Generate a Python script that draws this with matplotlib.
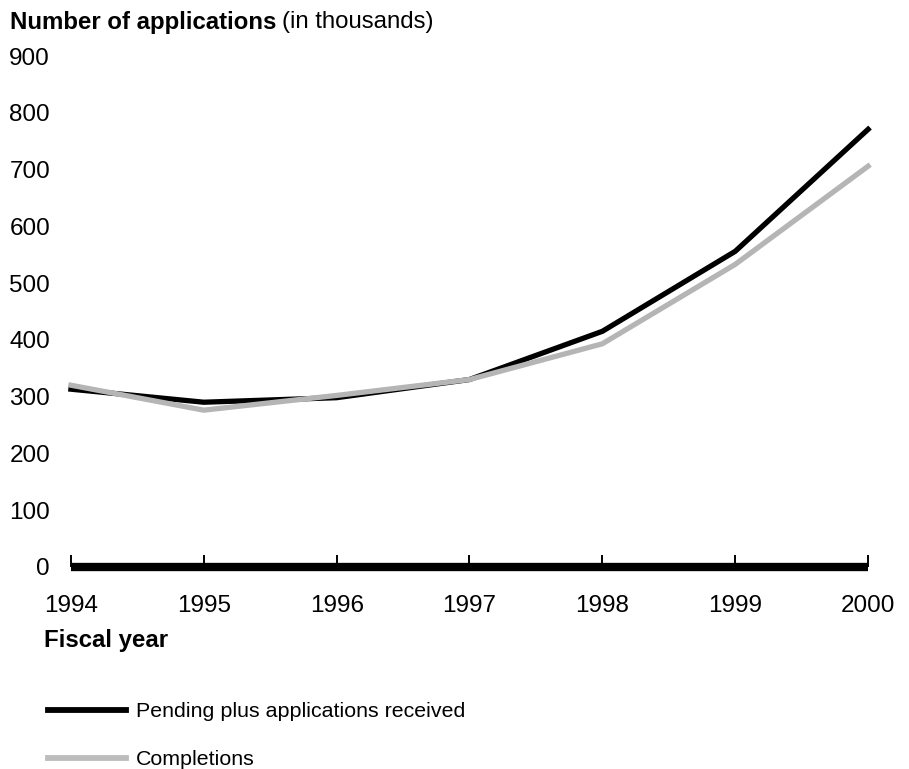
import matplotlib.pyplot as plt
from matplotlib.lines import Line2D

plt.rcParams["font.family"] = ["Liberation Sans", "DejaVu Sans"]

years = [1994, 1995, 1996, 1997, 1998, 1999, 2000]
pending = [313, 290, 298, 330, 415, 556, 771]
completions = [320, 276, 302, 330, 393, 533, 706]
y_ticks = [0, 100, 200, 300, 400, 500, 600, 700, 800, 900]

fig = plt.figure(figsize=(9.09, 7.69), dpi=100)
ax = fig.add_axes([0.078, 0.263, 0.877, 0.664])

ax.plot(years, pending, color="black", linewidth=3.8, clip_on=False,
        solid_joinstyle="miter", label="Pending plus applications received")
ax.plot(years, completions, color="#b5b5b5", linewidth=3.8, clip_on=False,
        solid_joinstyle="miter", label="Completions")

ax.set_xlim(1994, 2000)
ax.set_ylim(0, 900)
ax.set_xticks(years)
ax.set_yticks(y_ticks)

for s in ["top", "right", "left"]:
    ax.spines[s].set_visible(False)
ax.spines["bottom"].set_linewidth(6)
ax.spines["bottom"].set_capstyle("butt")
ax.tick_params(axis="x", direction="in", length=9, width=1.4, pad=20.5,
               labelsize=17.5)
ax.tick_params(axis="y", length=0, pad=15, labelsize=17.5)
for lab in ax.get_yticklabels():
    lab.set_horizontalalignment("right")

t1 = fig.text(10 / 909, 1 - 22 / 769, "Number of applications", fontsize=17.3,
              fontweight="bold", va="center", ha="left")
fig.canvas.draw()
bb = t1.get_window_extent()
fig.text((bb.x1 + 6) / 909, 1 - 22 / 769, "(in thousands)", fontsize=17.3,
         va="center", ha="left")
fig.text(44 / 909, 1 - 641 / 769, "Fiscal year", fontsize=17.3,
         fontweight="bold", va="center", ha="left")

handles = [Line2D([], [], color="black", linewidth=4.2),
           Line2D([], [], color="#bdbdbd", linewidth=4.2)]
fig.legend(handles, ["Pending plus applications received", "Completions"],
           loc="upper left", bbox_to_anchor=(29 / 909, 1 - 683 / 769),
           frameon=False, fontsize=15.4, handlelength=3.65,
           handletextpad=0.45, labelspacing=1.35)

fig.savefig("out.png", dpi=100)
